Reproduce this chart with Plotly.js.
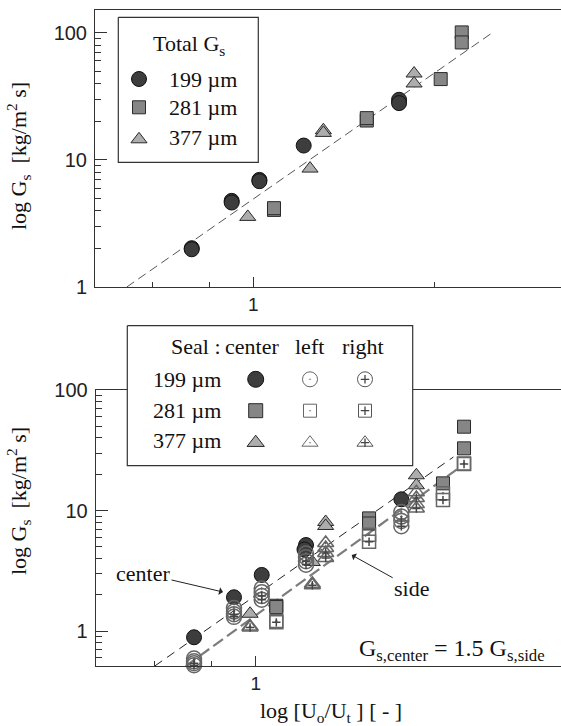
<!DOCTYPE html>
<html><head><meta charset="utf-8">
<script src="https://cdn.plot.ly/plotly-3.0.1.min.js"></script>
<style>html,body{margin:0;padding:0;background:#fff}#chart{width:561px;height:726px}</style>
</head><body><div id="chart"></div>
<script>
// ================= DATA =================
// Top panel: total Gs vs Uo/Ut
const top199X = [0.732, 0.732, 0.896, 0.896, 1.031, 1.031, 1.29, 2.09, 2.09];
const top199Y = [2.02, 1.98, 4.76, 4.62, 6.96, 6.80, 12.96, 29.7, 27.96];
const top281X = [1.11, 1.11, 1.775, 1.775, 2.58, 2.87, 2.87];
const top281Y = [4.04, 4.17, 20.4, 21.3, 43.2, 100.6, 83.9];
const top377X = [0.972, 1.332, 1.425, 1.425, 2.255, 2.255];
const top377Y = [3.56, 8.54, 17.1, 16.3, 47.8, 39.9];
const topFitX = [0.527, 3.35];
const topFitY = [1, 100];

// Bottom panel: Gs by seal position
const c199X = [0.732, 0.896, 1.031, 1.29, 1.28, 2.09];
const c199Y = [0.887, 1.905, 2.92, 5.17, 4.75, 12.39];
const s199X = [0.732, 0.896, 1.031, 1.29, 2.09, 0.732, 0.896, 1.031, 1.29, 2.09];
const l199Y = [0.59, 1.55, 2.25, 4.4, 9.7, 0.56, 1.45, 2.1, 4.1, 8.9];
const r199Y = [0.54, 1.38, 1.95, 3.8, 8.2, 0.52, 1.31, 1.82, 3.55, 7.4];

const c281X = [1.11, 1.11, 1.775, 1.775, 2.58, 2.87, 2.87];
const c281Y = [1.62, 1.58, 8.6, 7.8, 16.8, 49.6, 32.8];
const s281X = [1.11, 1.775, 2.58, 2.87];
const l281Y = [1.21, 6.3, 13.9, 24.6];
const r281Y = [1.18, 5.5, 12.2, 24.3];

const c377X = [0.972, 1.332, 1.425, 1.425, 2.255, 2.255];
const c377Y = [1.39, 3.74, 8.03, 7.44, 19.6, 16.2];
const s377X = [0.972, 1.332, 1.425, 1.425, 2.255, 2.255];
const l377Y = [1.09, 2.47, 5.37, 4.88, 14.2, 11.3];
const r377Y = [1.07, 2.40, 4.44, 4.03, 12.7, 10.4];

const centerFitX = [0.600, 2.72];
const centerFitY = [0.512, 27.8];
const sideFitX = [0.702, 2.788];
const sideFitY = [0.512, 22.4];

const sizeLabels = ['199 µm', '281 µm', '377 µm'];
const xTickTop = [1];
const xMinorTop = [0.6, 0.8, 2.5];
const xMinorBot = [0.6, 0.8];

// ================= STYLES =================
const SERIF = 'Liberation Serif';
const SANS = 'Liberation Sans';
const W = 561, H = 726;
const sty = {
  c199: {symbol:'circle', size:15, color:'#3d3d3d', line:{color:'#111', width:1}},
  c281: {symbol:'square', size:13, color:'#868686', line:{color:'#2a2a2a', width:1}},
  c377: {symbol:'triangle-up', size:14, color:'#adadad', line:{color:'#2a2a2a', width:1}},
};
function openM(sym, size, w, col){ return {symbol: sym + '-open', size:size, color:col||'#666', line:{color:col||'#666', width:w||1.5}}; }
function dotM(sym, size, w, col){ return {symbol: sym + '-open-dot', size:size, color:col||'#666', line:{color:col||'#666', width:w||1.5}}; }
const crossM = (w) => ({symbol:'cross-thin-open', size:6, color:'#444', line:{color:'#444', width:w||1.5}});

const traces = [];
function sc(x, y, marker, xa, ya, extra){ traces.push(Object.assign({type:'scatter', mode:'markers', x:x, y:y, marker:marker, xaxis:xa, yaxis:ya, hoverinfo:'skip', cliponaxis:false}, extra||{})); }
function ln(x, y, line, xa, ya){ traces.push({type:'scatter', mode:'lines', x:x, y:y, line:line, xaxis:xa, yaxis:ya, hoverinfo:'skip'}); }

// top panel
ln(topFitX, topFitY, {color:'#555', width:1, dash:'9px,5px'}, 'x', 'y');
sc(top199X, top199Y, sty.c199, 'x', 'y');
sc(top281X, top281Y, sty.c281, 'x', 'y');
sc(top377X, top377Y, sty.c377, 'x', 'y');

// bottom panel
ln(centerFitX, centerFitY, {color:'#222', width:1, dash:'9px,6px'}, 'x2', 'y2');
ln(sideFitX, sideFitY, {color:'#7c7c7c', width:2.2, dash:'12px,5px'}, 'x2', 'y2');
sc(c199X, c199Y, sty.c199, 'x2', 'y2');
sc(c281X, c281Y, sty.c281, 'x2', 'y2');
sc(c377X, c377Y, sty.c377, 'x2', 'y2');
sc(s199X, l199Y, dotM('circle', 15), 'x2', 'y2');
sc(s199X, r199Y, openM('circle', 15), 'x2', 'y2');
sc(s199X, r199Y, crossM(), 'x2', 'y2');
sc(s281X, l281Y, dotM('square', 13), 'x2', 'y2');
sc(s281X, r281Y, openM('square', 13), 'x2', 'y2');
sc(s281X, r281Y, crossM(), 'x2', 'y2');
sc(s377X, l377Y, dotM('triangle-up', 14), 'x2', 'y2');
sc(s377X, r377Y, openM('triangle-up', 14), 'x2', 'y2');
sc(s377X, r377Y, crossM(), 'x2', 'y2');

// ---- legends on a pixel overlay axis (x3/y3) ----
function box(x0, x1, y0, y1){ traces.push({type:'scatter', mode:'lines', x:[x0,x1,x1,x0,x0], y:[y0,y0,y1,y1,y0], fill:'toself', fillcolor:'#fff', line:{color:'#333', width:1.2}, xaxis:'x3', yaxis:'y3', hoverinfo:'skip'}); }
const LG1 = {x0:118.3, x1:258.3, y0:17.3, y1:162.3, mx:139, rows:[79, 107.3, 139.3]};
const LG2 = {x0:127.3, x1:412.7, y0:325.7, y1:465.7, cols:[255.7, 310, 365], rows:[379.3, 410.7, 442.7]};
box(LG1.x0, LG1.x1, LG1.y0, LG1.y1);
box(LG2.x0, LG2.x1, LG2.y0, LG2.y1);
const legSyms = ['circle', 'square', 'triangle-up'];
const legCenter = [sty.c199, sty.c281, sty.c377];
const legSz = [15, 13, 14];
for (let i = 0; i < 3; i++) {
  sc([LG1.mx], [LG1.rows[i]], legCenter[i], 'x3', 'y3');
  sc([LG2.cols[0]], [LG2.rows[i]], Object.assign({}, legCenter[i], {size: legCenter[i].size + 1}), 'x3', 'y3');
  sc([LG2.cols[1]], [LG2.rows[i]], dotM(legSyms[i], legSz[i], 1, '#666'), 'x3', 'y3');
  sc([LG2.cols[2]], [LG2.rows[i]], openM(legSyms[i], legSz[i], 1, '#555'), 'x3', 'y3');
  sc([LG2.cols[2]], [LG2.rows[i]], crossM(1.3), 'x3', 'y3');
}

// ---- annotations ----
const ann = [];
function T(text, x, y, opt){ ann.push(Object.assign({text:text, x:x, y:y, xref:'x3', yref:'y3', showarrow:false, font:{family:SERIF, size:22, color:'#111'}, xanchor:'center', yanchor:'middle'}, opt||{})); }
T('Total G<sub>s</sub>', 188.5, 44.5);
for (let i = 0; i < 3; i++) {
  T(sizeLabels[i], 167, LG1.rows[i] - (i==2?2:0), {xanchor:'left'});
  T(sizeLabels[i], 151, LG2.rows[i] - (i==2?2:0), {xanchor:'left'});
}
T('Seal :', 169, 346.7, {xanchor:'left'});
T('center', 252, 346.7);
T('left', 309, 346.7);
T('right', 362.5, 346.7);
T('log G<sub>s</sub>  [kg/m<sup>2</sup> s]', 18, 156, {textangle:-90});
T('log G<sub>s</sub>  [kg/m<sup>2</sup> s]', 18, 501, {textangle:-90});
T('log [U<sub>o</sub>/U<sub>t</sub> ] [ - ]', 331, 712, {font:{family:SERIF, size:22, color:'#111'}});
T('G<sub>s,center</sub> = 1.5 G<sub>s,side</sub>', 547, 650, {xanchor:'right', font:{family:SERIF, size:24, color:'#111'}});
ann.push({text:'center', x:223, y:592, ax:143, ay:573.3, xref:'x3', yref:'y3', axref:'x3', ayref:'y3', showarrow:true, arrowhead:1, arrowsize:1.3, arrowwidth:1, arrowcolor:'#222', font:{family:SERIF, size:22, color:'#111'}});
ann.push({text:'side', x:351.7, y:555, ax:411.7, ay:588.3, xref:'x3', yref:'y3', axref:'x3', ayref:'y3', showarrow:true, arrowhead:1, arrowsize:1.3, arrowwidth:1, arrowcolor:'#222', font:{family:SERIF, size:22, color:'#111'}});

// ---- axes ----
function xax(domain, range, minor){
  return {type:'log', domain:domain, range:range, showline:true, mirror:true, linecolor:'#333', linewidth:1,
    ticks:'inside', ticklen:10, tickwidth:1, tickcolor:'#333', tickvals:xTickTop, ticktext:['1'],
    minor:{tickmode:'array', tickvals:minor, ticks:'inside', ticklen:5, tickwidth:1, tickcolor:'#333', showgrid:false},
    showgrid:false, zeroline:false, tickfont:{family:SANS, size:19, color:'#222'}, fixedrange:true};
}
function yax(domain, range, minor){
  return {type:'log', domain:domain, range:range, showline:true, mirror:false, linecolor:'#333', linewidth:1,
    ticks:'inside', ticklen:12, tickwidth:1, tickcolor:'#333', tickvals:[1,10,100], ticktext:['1','10','100'],
    ticklabelstandoff:3,
    minor:{tickmode:'array', tickvals:minor, ticks:'inside', ticklen:6, tickwidth:1, tickcolor:'#333', showgrid:false},
    showgrid:false, zeroline:false, tickfont:{family:SANS, size:20, color:'#222'}, fixedrange:true};
}
const minY = [2,3,4,5,6,7,8,9,20,30,40,50,60,70,80,90];
const layout = {
  width:W, height:H, margin:{l:0, r:0, t:0, b:0}, paper_bgcolor:'#fff', plot_bgcolor:'rgba(0,0,0,0)', showlegend:false,
  xaxis: Object.assign(xax([95/W, 1], [-0.348, 0.676], xMinorTop), {anchor:'y'}),
  yaxis: Object.assign(yax([1-287/H, 1-10/H], [0, 2.179], minY), {anchor:'x'}),
  xaxis2: Object.assign(xax([95.7/W, 1], [-0.3516, 0.671], xMinorBot), {anchor:'y2'}),
  yaxis2: Object.assign(yax([1-666/H, 1-390/H], [-0.2905, 2.0], [0.6,0.7,0.8,0.9].concat(minY)), {anchor:'x2'}),
  xaxis3: {domain:[0,1], range:[0, W], visible:false, anchor:'y3', fixedrange:true},
  yaxis3: {domain:[0,1], range:[H, 0], visible:false, anchor:'x3', fixedrange:true},
  annotations: ann
};
Plotly.newPlot('chart', traces, layout, {staticPlot:true, displayModeBar:false});
</script></body></html>
